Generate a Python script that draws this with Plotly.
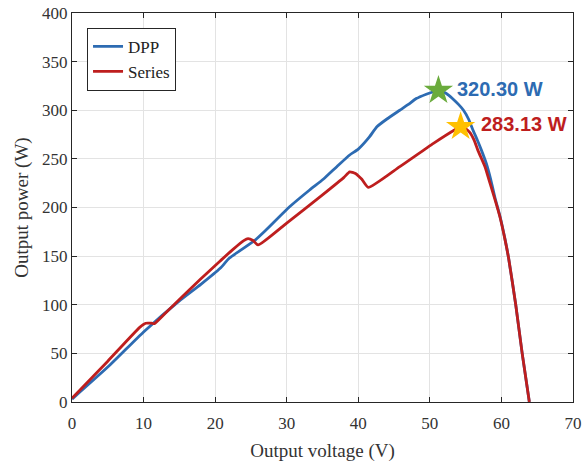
import plotly.graph_objects as go

# DPP curve (V, W)
dpp_v = [0, 5.3, 10, 15, 18, 20.7, 22, 25.6, 27, 30.4, 33.2, 35.1, 37, 38.8, 40, 41.5, 42.6, 44, 45.8, 47, 48.1, 49.5, 50.5, 51.2, 52, 52.7, 53.3, 54.0, 54.7, 55.4, 56.0, 56.6, 57.2, 57.9, 58.5, 59.1, 59.8, 60.5, 61.0, 62.0, 62.9, 63.9]
dpp_p = [3, 38, 72, 104, 121, 137.5, 148, 166.5, 176, 200.7, 218, 229, 242, 254, 260, 272, 283, 291, 300, 306, 312, 316.5, 319, 320.3, 318.5, 315, 311, 306, 300, 291, 280, 270, 259, 245, 229, 210, 191, 167.5, 148, 100, 50, 0]

# Series curve (V, W)
ser_v = [0, 5, 9.5, 10.3, 11.1, 11.5, 13, 17.9, 20.7, 22.5, 24, 24.6, 25.3, 26.0, 30, 35, 38, 38.8, 39.6, 40.5, 41.4, 45.8, 50.5, 53.5, 54.3, 55.0, 55.6, 56.2, 56.7, 57.7, 58.4, 59.1, 59.8, 60.5, 61.0, 62.0, 62.9, 63.9]
ser_p = [3.8, 42, 77, 81, 81, 80.5, 91, 126, 145, 157, 166, 168, 166, 161.5, 184, 213, 231, 236.7, 235, 229, 220.7, 242, 266, 280, 283.13, 281, 277, 269, 259, 242, 225, 208, 190, 167, 148, 100, 50, 0]

# maximum power points
mpp_v = [51.2, 54.3]
mpp_p = [320.30, 283.13]
mpp_labels = ["320.30 W", "283.13 W"]

blue = "#2D6BB2"
red = "#BE1E1E"

fig = go.Figure()
fig.add_trace(go.Scatter(x=dpp_v, y=dpp_p, mode="lines", name="DPP",
                         line=dict(color=blue, width=2.8, shape="spline", smoothing=0.5)))
fig.add_trace(go.Scatter(x=ser_v, y=ser_p, mode="lines", name="Series",
                         line=dict(color=red, width=2.8, shape="spline", smoothing=0.5)))
fig.add_trace(go.Scatter(x=[mpp_v[0]], y=[mpp_p[0]], mode="markers", showlegend=False,
                         marker=dict(symbol="star", size=22, color="#6AAB3C", line=dict(width=0))))
fig.add_trace(go.Scatter(x=[mpp_v[1]], y=[mpp_p[1]], mode="markers", showlegend=False,
                         marker=dict(symbol="star", size=22, color="#FFC000", line=dict(width=0))))

fig.add_annotation(x=mpp_v[0] + 2.3, y=mpp_p[0] + 1.5, text=mpp_labels[0], showarrow=False,
                   xanchor="left", yanchor="middle",
                   font=dict(family="Liberation Sans", size=20, color=blue, weight="bold"))
fig.add_annotation(x=mpp_v[1] + 2.6, y=mpp_p[1] + 2.5, text=mpp_labels[1], showarrow=False,
                   xanchor="left", yanchor="middle",
                   font=dict(family="Liberation Sans", size=20, color=red, weight="bold"))

axis_common = dict(
    showgrid=True, gridcolor="#E3E3E3", gridwidth=1,
    showline=True, linecolor="#262626", linewidth=1.2, mirror="ticks",
    ticks="inside", ticklen=5, tickcolor="#262626",
    zeroline=False, automargin=False,
    tickfont=dict(family="Liberation Serif", size=17, color="#333333"),
)

fig.update_xaxes(range=[0, 70], dtick=10, tick0=0, ticklabelstandoff=5,
                 title=dict(text="Output voltage (V)", font=dict(family="Liberation Serif", size=19, color="#333333"), standoff=12),
                 **axis_common)
fig.update_yaxes(range=[0, 400], dtick=50, tick0=0,
                 title=dict(text="Output power (W)", font=dict(family="Liberation Serif", size=19, color="#333333"), standoff=8),
                 **axis_common)

fig.update_layout(
    width=584, height=464,
    margin=dict(l=72, r=11, t=13, b=62),
    paper_bgcolor="white", plot_bgcolor="white",
    legend=dict(x=0.03, y=0.962, xanchor="left", yanchor="top",
                bgcolor="white", bordercolor="#262626", borderwidth=1,
                font=dict(family="Liberation Serif", size=17, color="#222222"),
                tracegroupgap=0, itemwidth=30),
    showlegend=True,
)

fig.write_html("out.html")
